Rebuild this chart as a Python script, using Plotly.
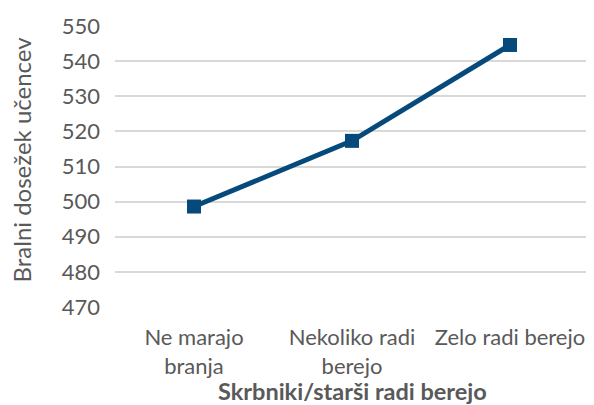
import plotly.graph_objects as go

categories = ["Ne marajo<br>branja", "Nekoliko radi<br>berejo", "Zelo radi berejo"]
values = [498.6, 517.3, 544.6]
y_ticks = [470, 480, 490, 500, 510, 520, 530, 540, 550]

x_title = "Skrbniki/starši radi berejo"
y_title = "Bralni dosežek učencev"

# page body has an 8px default margin; compensate
OFF = 8

fig = go.Figure()
fig.add_trace(go.Scatter(
    x=categories, y=values, mode="lines+markers",
    line=dict(color="#064A7C", width=5),
    marker=dict(symbol="square", size=14, color="#064A7C"),
    showlegend=False,
))

fig.update_layout(
    width=594 - OFF, height=405 - OFF,
    margin=dict(l=115 - OFF, r=5, t=26 - OFF, b=98),
    paper_bgcolor="white", plot_bgcolor="white",
    font=dict(family="Lato", color="#595959"),
    xaxis=dict(
        type="category", range=[-0.5, 2.5],
        showgrid=False, zeroline=False, showline=False,
        tickfont=dict(size=22, color="#595959"),
        ticks="", ticklabelstandoff=15,
    ),
    yaxis=dict(
        range=[470, 550], tickvals=y_ticks,
        showgrid=True, gridcolor="#D9D9D9", gridwidth=1.5,
        zeroline=False, showline=False,
        tickfont=dict(size=22, color="#595959"),
        ticks="", ticklabelstandoff=14,
    ),
    annotations=[
        dict(text=x_title, xref="paper", yref="paper", x=0.5, y=0,
             yshift=-84, xanchor="center", yanchor="middle", showarrow=False,
             font=dict(size=23.5, color="#595959", family="Lato", weight="bold")),
        dict(text=y_title, xref="paper", yref="paper", x=0, y=0.5,
             xshift=-94, yshift=7, xanchor="center", yanchor="middle", showarrow=False,
             textangle=-90,
             font=dict(size=24, color="#595959", family="Lato")),
    ],
)

fig.write_html("out.html")
